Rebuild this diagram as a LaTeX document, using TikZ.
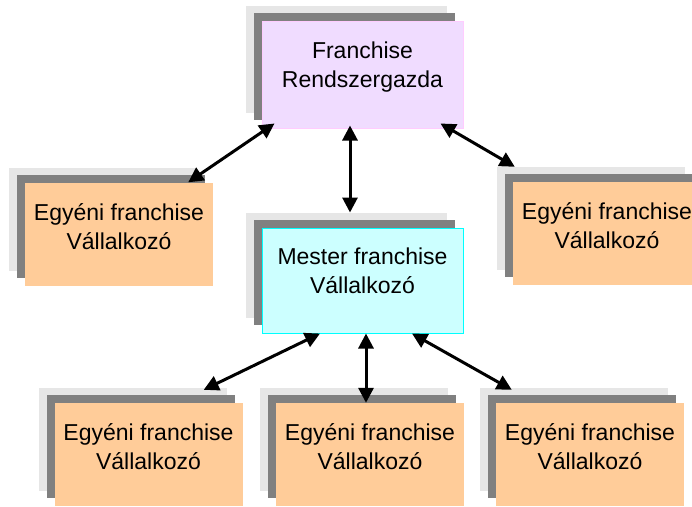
\documentclass[tikz,border=0pt]{standalone}
\usepackage{fontspec}
\setmainfont{Liberation Sans}
\usepackage{tikz}
\usetikzlibrary{arrows.meta, positioning, shadows}
\definecolor{adminfill}{RGB}{240,220,255}
\definecolor{adminline}{RGB}{255,204,255}
\definecolor{masterfill}{RGB}{204,255,255}
\definecolor{masterline}{RGB}{0,255,255}
\definecolor{unitfill}{RGB}{255,204,153}
\definecolor{shadowdark}{RGB}{128,128,128}
\definecolor{shadowlight}{RGB}{230,230,230}

\begin{document}
\begin{tikzpicture}[on grid, >={Triangle[length=15pt,width=15pt]},
    card/.style={rectangle, inner sep=0pt, align=center, font=\fontsize{23pt}{29pt}\selectfont,
      general shadow={fill=shadowlight, shadow xshift=-16pt, shadow yshift=15pt},
      general shadow={fill=shadowdark, shadow xshift=-8pt, shadow yshift=8pt}},
    admin/.style={card, draw=adminline, line width=1pt, fill=adminfill, minimum width=201pt, minimum height=107pt, text depth=20pt},
    master/.style={card, draw=masterline, line width=1pt, fill=masterfill, minimum width=201pt, minimum height=105pt, text depth=20pt},
    unit/.style={card, fill=unitfill, minimum width=188pt, minimum height=103pt, text depth=15pt},
    link/.style={<->, line width=3pt}]
    \useasboundingbox (0,0) rectangle (692pt,-506pt);

    \node[admin] (admin) at (362.5pt,-74.5pt) {Franchise\\Rendszergazda};
    \node[master, below=206pt of admin] (master) {Mester franchise\\Vállalkozó};
    \node[unit, below left=159.5pt and 243.5pt of admin] (solo1) {Egyéni franchise\\Vállalkozó};
    \node[unit, below right=159pt and 244.5pt of admin] (solo2) {Egyéni franchise\\Vállalkozó};
    \node[unit, below left=174pt and 214pt of master] (sub1) {Egyéni franchise\\Vállalkozó};
    \node[unit, below right=174pt and 7.5pt of master] (sub2) {Egyéni franchise\\Vállalkozó};
    \node[unit, below right=174pt and 227.5pt of master] (sub3) {Egyéni franchise\\Vállalkozó};

    \draw[link] ([xshift=13pt,yshift=5pt]admin.south west) -- ([xshift=-25pt]solo1.north east);
    \draw[link] ([xshift=-23pt,yshift=5pt]admin.south east) -- ([xshift=2pt,yshift=15pt]solo2.north west);
    \draw[link] ([xshift=-12.5pt,yshift=3pt]admin.south) -- ([xshift=-12.5pt,yshift=15pt]master.north);
    \draw[link] ([xshift=-42.5pt]master.south) -- ([xshift=-39pt,yshift=13pt]sub1.north east);
    \draw[link] ([xshift=3.5pt]master.south) -- ([xshift=-4pt]sub2.north);
    \draw[link] ([xshift=49.5pt]master.south) -- ([xshift=16pt,yshift=13pt]sub3.north west);
\end{tikzpicture}
\end{document}
